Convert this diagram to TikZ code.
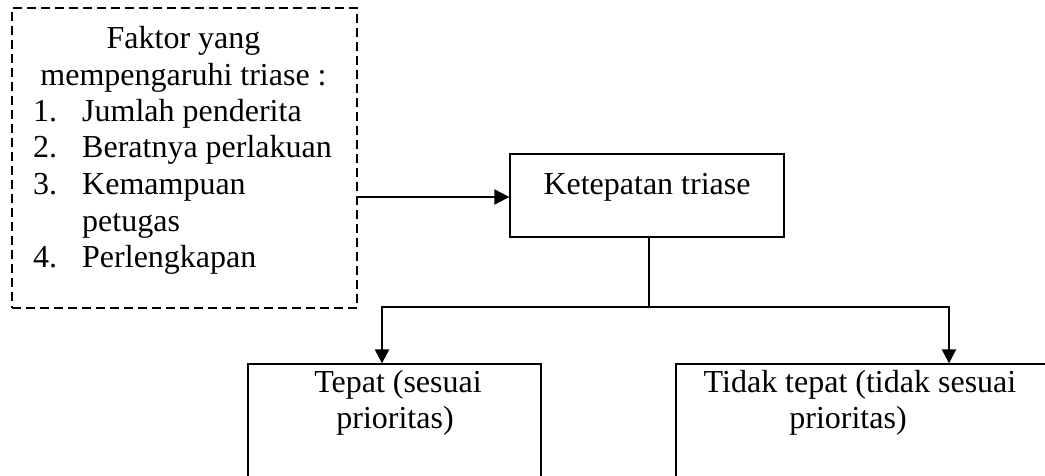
\documentclass[tikz,border=0pt]{standalone}
\usepackage{fontspec}
\setmainfont{Liberation Serif}
\usetikzlibrary{arrows.meta}
\begin{document}
\begin{tikzpicture}[x=1pt,y=-1pt,
  box/.style={draw, line width=1.3pt, inner sep=0pt, rectangle},
  dbox/.style={draw, line width=1.3pt, inner sep=0pt, rectangle, dash pattern=on 9pt off 5pt},
  txt/.style={inner sep=0pt, anchor=base, font=\fontsize{32}{36.5}\selectfont},
  ltxt/.style={inner sep=0pt, anchor=base west, font=\fontsize{32}{36.5}\selectfont},
  conn/.style={line width=2pt, -{Triangle[length=15pt,width=15pt]}},
  branch/.style={line width=2.3pt, {Triangle[length=14pt,width=14pt]}-{Triangle[length=14pt,width=14pt]}},
  stem/.style={line width=1.7pt}
]
\useasboundingbox (0,0) rectangle (1045,476);
\clip (0,0) rectangle (1045,476);

% dashed factor box
\node[dbox, minimum width=345pt, minimum height=300pt] (f) at (184.5,158) {};
\node[txt] (f1) at (183.5,49) {Faktor yang};
\node[txt] (f2) at (183.5,85.5) {mempengaruhi triase :};
\node[ltxt] (n1) at (33,122) {1.};
\node[ltxt] (t1) at (82,122) {Jumlah penderita};
\node[ltxt] (n2) at (33,158) {2.};
\node[ltxt] (t2) at (82,158) {Beratnya perlakuan};
\node[ltxt] (n3) at (33,194.5) {3.};
\node[ltxt] (t3) at (82,194.5) {Kemampuan};
\node[ltxt] (t3b) at (82,231) {petugas};
\node[ltxt] (n4) at (33,267.5) {4.};
\node[ltxt] (t4) at (82,267.5) {Perlengkapan};

% Ketepatan triase
\node[box, minimum width=274pt, minimum height=83pt] (k) at (647,195.5) {};
\node[txt] (kt) at (647,194) {Ketepatan triase};

% bottom boxes
\node[box, minimum width=293pt, minimum height=150pt] (tp) at (394.5,439) {};
\node[txt] (tp1) at (398,392) {Tepat (sesuai};
\node[txt] (tp2) at (395,428) {prioritas)};

\node[box, minimum width=384pt, minimum height=150pt] (ntp) at (868,439) {};
\node[txt] (ntp1) at (860,392) {Tidak tepat (tidak sesuai};
\node[txt] (ntp2) at (848,428) {prioritas)};

% connectors
\coordinate (fa) at (f.east |- 0,197);
\draw[conn] (fa) -- (fa -| k.west);

\coordinate (jm) at (649,307);
\coordinate (jl) at (382,307);
\coordinate (jr) at (949,307);
\draw[stem] (jm |- k.south) -- (jm);
\draw[branch] (jl |- tp.north) -- (jl) -- (jr) -- (jr |- ntp.north);
\end{tikzpicture}
\end{document}
